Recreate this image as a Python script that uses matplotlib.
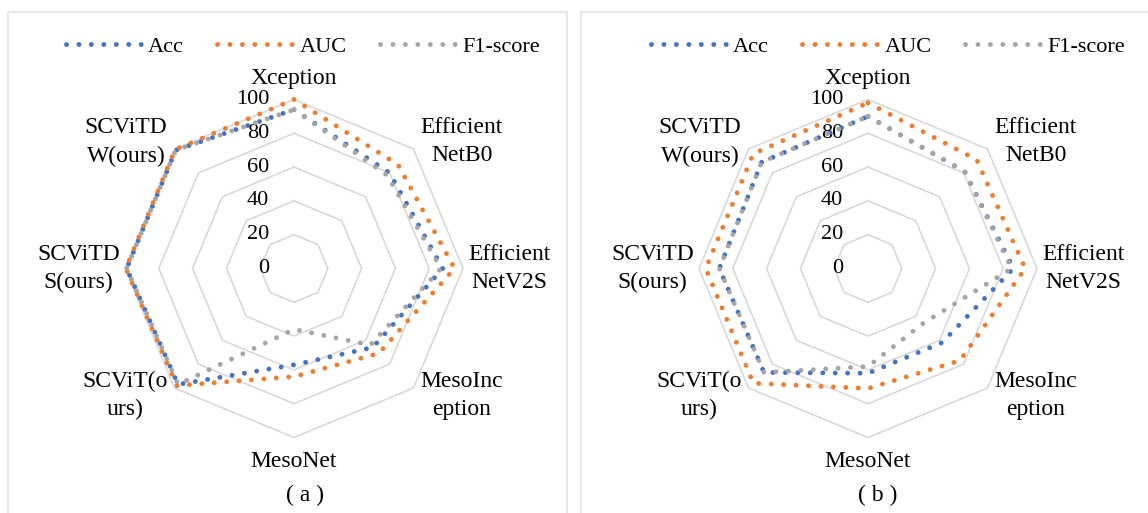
import numpy as np
import matplotlib
matplotlib.use("Agg")
import matplotlib.pyplot as plt
import matplotlib.transforms as mtransforms
from matplotlib.lines import Line2D
from matplotlib.patches import Rectangle

plt.rcParams["font.family"] = ["Liberation Serif", "DejaVu Serif"]

# Data
categories = ["Xception", "Efficient\nNetB0", "Efficient\nNetV2S", "MesoInc\neption",
              "MesoNet", "SCViT(o\nurs)", "SCViTD\nS(ours)", "SCViTD\nW(ours)"]
series_names = ["Acc", "AUC", "F1-score"]
ring_values = [0, 20, 40, 60, 80, 100]

acc_a = [94, 80, 88, 66, 57, 97, 99, 99]
auc_a = [100, 87, 95, 71, 64, 98, 99.5, 99.5]
f1_a = [94, 78, 87, 64, 36, 97, 99, 99]

acc_b = [90, 81, 86, 62, 62, 87, 88, 89]
auc_b = [98, 91, 93, 77, 71, 96, 96, 96]
f1_b = [90, 81, 85, 46, 58, 87, 88, 89]

colors = ["#4472C4", "#ED7D31", "#A5A5A5"]
grid_color = "#D9D9D9"
FS = 16
FS_LAB = 17
W, H = 1148, 513
R_PX = 169  # pixel radius of the 100 ring

# label placement per category: (radius, ha, va)
label_place = [(106, "center", "bottom"), (106, "left", "center"), (103, "left", "center"),
               (106, "left", "center"), (108, "center", "top"), (106, "right", "center"),
               (103, "right", "center"), (106, "right", "center")]

dot_style = dict(linestyle=(0, (0.01, 2.55)), linewidth=3.5, dash_capstyle="round")

fig = plt.figure(figsize=(W / 100, H / 100), dpi=100)

# panel frames
for x0, x1 in [(8, 567), (581, 1160)]:
    fig.add_artist(Rectangle((x0 / W, -0.1), (x1 - x0) / W, 1.1 - 12 / H,
                             transform=fig.transFigure, fill=False,
                             edgecolor="#E3E3E3", linewidth=1.2))


def draw_panel(cx, cy, series, subtitle, legend_cx, sub_cx):
    ax = fig.add_axes([(cx - R_PX) / W, (H - cy - R_PX) / H, 2 * R_PX / W, 2 * R_PX / H],
                      projection="polar")
    ax.set_theta_zero_location("N")
    ax.set_theta_direction(-1)
    ax.set_ylim(0, 100)
    ax.grid(False)
    ax.set_xticks([])
    ax.set_yticks([])
    ax.spines["polar"].set_visible(False)
    ax.patch.set_visible(False)

    n = len(categories)
    angles = np.linspace(0, 2 * np.pi, n, endpoint=False)
    closed = np.append(angles, angles[0])

    for r in ring_values[1:]:
        ax.plot(closed, [r] * (n + 1), color=grid_color, linewidth=1.2, zorder=1, clip_on=False)

    off = mtransforms.offset_copy(ax.transData, fig=fig, x=-25, y=0, units="dots")
    for r in ring_values:
        ax.text(0, r, str(r), transform=off, ha="right", va="center", fontsize=FS, zorder=2)

    for vals, col in zip(series, colors):
        ax.plot(closed, list(vals) + [vals[0]], color=col, zorder=3, clip_on=False, **dot_style)

    for ang, lab, (r, ha, va) in zip(angles, categories, label_place):
        ax.text(ang, r, lab, ha=ha, va=va, multialignment="center", fontsize=FS_LAB,
                linespacing=1.45)

    handles = [Line2D([], [], color=c, **dot_style) for c in colors]
    fig.legend(handles, series_names, loc="center", ncol=3, frameon=False,
               bbox_to_anchor=(legend_cx / W, 1 - 47 / H), fontsize=FS,
               handlelength=3.4, handletextpad=0.3, columnspacing=1.5)

    fig.text(sub_cx / W, 1 - 495 / H, subtitle, ha="center", va="center", fontsize=FS_LAB)


draw_panel(294, 268.5, [acc_a, auc_a, f1_a], "( a )", 303, 305)
draw_panel(868, 268.5, [acc_b, auc_b, f1_b], "( b )", 888, 878)

fig.savefig("out.png", dpi=100)
